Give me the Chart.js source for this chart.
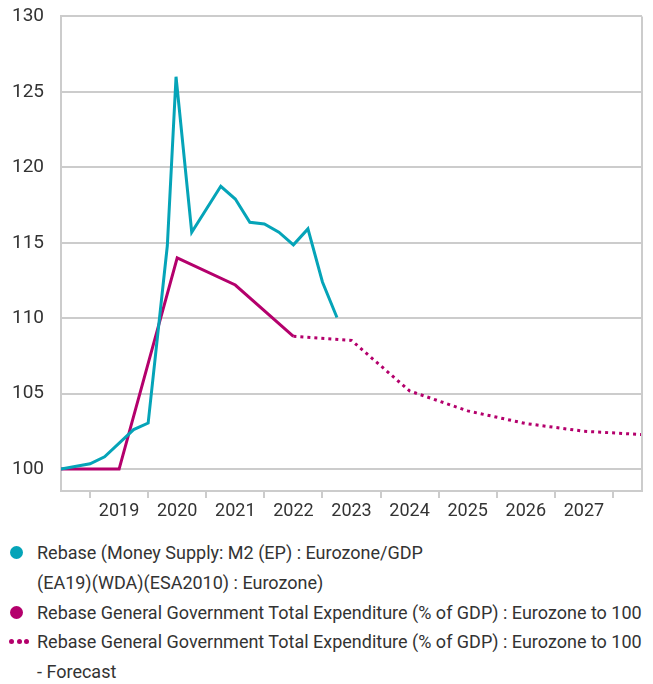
<!DOCTYPE html>
<html>
<head>
<meta charset="utf-8">
<script src="https://cdn.jsdelivr.net/npm/chart.js@4/dist/chart.umd.min.js"></script>
<style>
  body { margin: 0; background: #fff; font-family: Roboto, sans-serif; }
  #wrap { position: relative; width: 653px; height: 530px; }
  #inner { position: absolute; left: 0; top: -12px; width: 653px; height: 542px; }
  #legend { margin: 8px 0 0 0; padding: 0; list-style: none; color: #333; font-weight: 400; font-size: 18px; line-height: 29.8px; }
  #legend li { position: relative; padding-left: 37px; white-space: nowrap; }
  #legend .dot { position: absolute; left: 10px; top: 8px; width: 13px; height: 13px; border-radius: 50%; }
  #legend .dots { position: absolute; left: 9px; top: 12px; height: 5px; display: flex; gap: 2.5px; line-height: 0; }
  #legend .dots i { display: block; width: 5px; height: 5px; border-radius: 50%; }
</style>
</head>
<body>
<div id="wrap"><div id="inner"><canvas id="chart"></canvas></div></div>
<ul id="legend"></ul>
<script>
// money supply / GDP, rebased (x = decimal year)
const m2Dates  = [2018.5, 2019.0, 2019.25, 2019.75, 2020.0, 2020.33, 2020.48, 2020.75, 2021.25, 2021.5, 2021.75, 2022.0, 2022.25, 2022.5, 2022.75, 2023.0, 2023.25];
const m2Values = [100, 100.35, 100.82, 102.62, 103.05, 114.8, 126.0, 115.7, 118.74, 117.9, 116.36, 116.25, 115.7, 114.86, 115.92, 112.4, 110.05];

// government expenditure (% of GDP), rebased
const govDates  = [2018.5, 2019.5, 2020.5, 2021.5, 2022.5];
const govValues = [100, 100, 114.0, 112.2, 108.8];

const fcDates  = [2022.5, 2023.5, 2024.5, 2025.5, 2026.5, 2027.5, 2028.5];
const fcValues = [108.8, 108.53, 105.18, 103.86, 103.02, 102.51, 102.29];

const yTicks = [100, 105, 110, 115, 120, 125, 130];
const yearTicks = [2019, 2020, 2021, 2022, 2023, 2024, 2025, 2026, 2027, 2028];
const yearLabels = ["2019", "2020", "2021", "2022", "2023", "2024", "2025", "2026", "2027"];

const seriesNames = [
  "Rebase (Money Supply: M2 (EP) : Eurozone/GDP<br>(EA19)(WDA)(ESA2010) : Eurozone)",
  "Rebase General Government Total Expenditure (% of GDP) : Eurozone to 100",
  "Rebase General Government Total Expenditure (% of GDP) : Eurozone to 100<br>- Forecast"
];

const CYAN = "#05a4b8";
const MAGENTA = "#b4006c";
const GRID = "#cccccc";
const TEXT = "#333333";

function pts(xs, ys) {
  return xs.map((x, i) => ({ x: x, y: ys[i] }));
}

const boxPlugin = {
  id: "box",
  afterDraw(chart) {
    const a = chart.chartArea, c = chart.ctx;
    c.save();
    c.strokeStyle = GRID;
    c.lineWidth = 2;
    c.beginPath();
    c.moveTo(a.right, a.top);
    c.lineTo(a.right, a.bottom);
    c.stroke();
    c.restore();
  }
};

new Chart("chart", {
  type: "line",
  data: {
    datasets: [
      { data: pts(m2Dates, m2Values), borderColor: CYAN, borderWidth: 3, pointRadius: 0, tension: 0, fill: false },
      { data: pts(govDates, govValues), borderColor: MAGENTA, borderWidth: 3, pointRadius: 0, tension: 0, fill: false },
      { data: pts(fcDates, fcValues), borderColor: MAGENTA, borderWidth: 3, borderDash: [3, 4], pointRadius: 0, tension: 0, fill: false }
    ]
  },
  options: {
    responsive: true,
    maintainAspectRatio: false,
    animation: false,
    layout: { padding: { top: 3, right: 11, left: 0, bottom: 0 } },
    plugins: { legend: { display: false }, tooltip: { enabled: false } },
    scales: {
      x: {
        type: "linear",
        min: 2018.5,
        max: 2028.5,
        afterBuildTicks: (axis) => {
          const t = yearTicks.map(v => ({ value: v }));
          yearLabels.forEach(l => t.push({ value: Number(l) + 0.5 }));
          axis.ticks = t.sort((a, b) => a.value - b.value);
        },
        afterFit: (axis) => { axis.height = 39; },
        grid: {
          drawOnChartArea: false,
          tickLength: 7,
          lineWidth: 2,
          tickColor: (ctx) => (ctx.tick && ctx.tick.value % 1 === 0) ? GRID : "rgba(0,0,0,0)"
        },
        border: { color: GRID, width: 2 },
        ticks: {
          autoSkip: false,
          maxRotation: 0,
          padding: 3,
          color: TEXT,
          font: { family: "Roboto", size: 18, weight: 400 },
          callback: (v) => (v % 1 === 0.5) ? String(Math.floor(v)) : ""
        }
      },
      y: {
        min: 98.55,
        max: 130,
        afterBuildTicks: (axis) => { axis.ticks = yTicks.map(v => ({ value: v })); },
        afterFit: (axis) => { axis.width = 61; },
        grid: { color: GRID, lineWidth: 2, drawTicks: false },
        border: { color: GRID, width: 2 },
        ticks: {
          padding: 17,
          color: TEXT,
          font: { family: "Roboto", size: 19, weight: 400 }
        }
      }
    }
  },
  plugins: [boxPlugin]
});

const legend = document.getElementById("legend");
const marks = [
  '<span class="dot" style="background:' + CYAN + '"></span>',
  '<span class="dot" style="background:' + MAGENTA + '"></span>',
  '<span class="dots"><i style="background:' + MAGENTA + '"></i><i style="background:' + MAGENTA + '"></i><i style="background:' + MAGENTA + '"></i></span>'
];
seriesNames.forEach((name, i) => {
  const li = document.createElement("li");
  li.innerHTML = marks[i] + name;
  legend.appendChild(li);
});
</script>
</body>
</html>
